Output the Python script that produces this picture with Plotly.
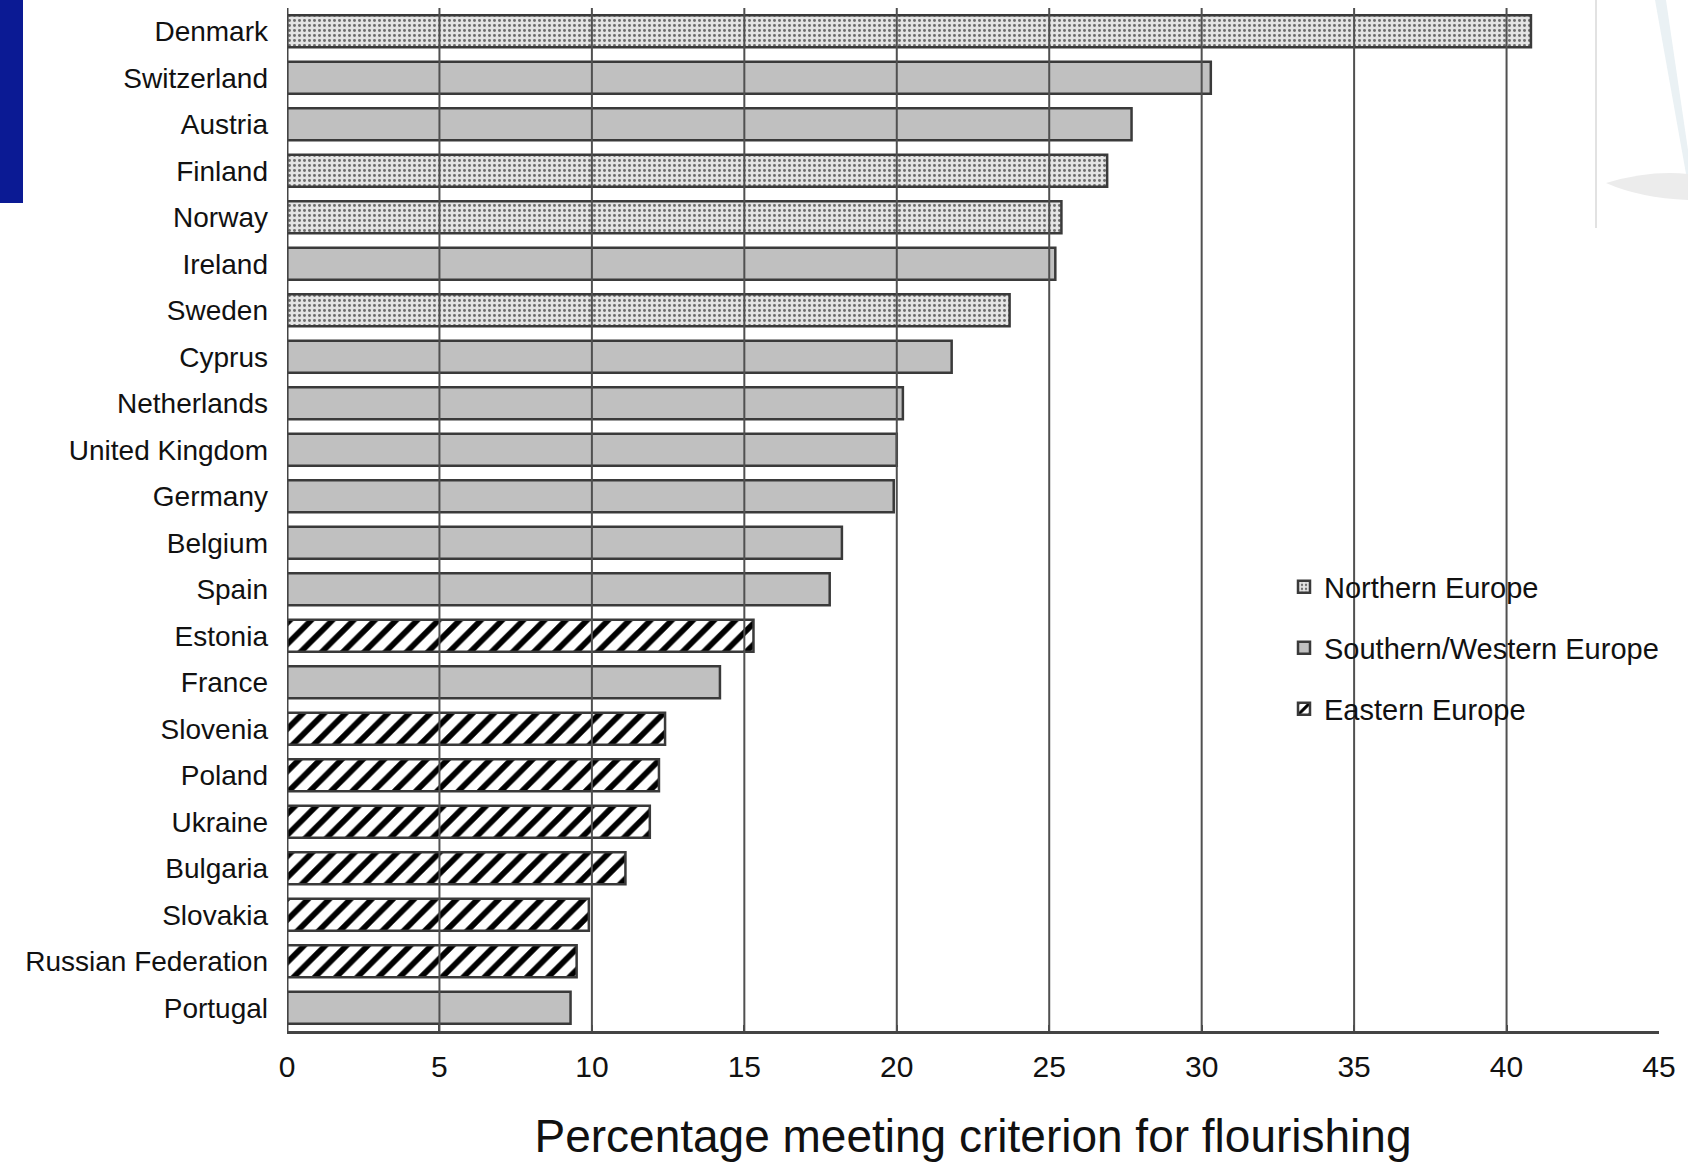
import plotly.graph_objects as go

# ---------------- data ----------------
countries = ["Denmark", "Switzerland", "Austria", "Finland", "Norway", "Ireland",
             "Sweden", "Cyprus", "Netherlands", "United Kingdom", "Germany",
             "Belgium", "Spain", "Estonia", "France", "Slovenia", "Poland",
             "Ukraine", "Bulgaria", "Slovakia", "Russian Federation", "Portugal"]
values = [40.8, 30.3, 27.7, 26.9, 25.4, 25.2, 23.7, 21.8, 20.2, 20.0, 19.9,
          18.2, 17.8, 15.3, 14.2, 12.4, 12.2, 11.9, 11.1, 9.9, 9.5, 9.3]
regions = ["N", "S", "S", "N", "N", "S", "N", "S", "S", "S", "S",
           "S", "S", "E", "S", "E", "E", "E", "E", "E", "E", "S"]
region_names = {"N": "Northern Europe", "S": "Southern/Western Europe", "E": "Eastern Europe"}
x_ticks = [0, 5, 10, 15, 20, 25, 30, 35, 40, 45]
x_title = "Percentage meeting criterion for flourishing"

# ---------------- figure ----------------
W, H = 1688, 1166
L, R, T, B = 287, 29, 8, 135
FONT = "Liberation Sans, Arial, sans-serif"
TXT = "#111111"
EDGE = "#3a3a3a"

styles = {
    "N": dict(color="#e4e4e4",
              pattern=dict(shape=".", fgcolor="#6e6e6e", bgcolor="#e4e4e4", size=5,
                           solidity=0.28, fgopacity=1)),
    "S": dict(color="#c0c0c0"),
    "E": dict(color="#ffffff",
              pattern=dict(shape="/", fgcolor="#000000", bgcolor="#ffffff", size=15,
                           solidity=0.38, fgopacity=1)),
}
legend_ids = {"N": "legend", "S": "legend2", "E": "legend3"}

fig = go.Figure()
for key in ["N", "S", "E"]:
    ys = [c for c, r in zip(countries, regions) if r == key]
    xs = [v for v, r in zip(values, regions) if r == key]
    fig.add_trace(go.Bar(
        y=ys, x=xs, orientation="h", name=region_names[key],
        marker=dict(**styles[key], line=dict(color=EDGE, width=2.5)),
        width=0.69, legend=legend_ids[key], hoverinfo="x+y",
    ))

pw = W - L - R
ph = H - T - B

def px_x(p):
    return (p - L) / pw

def px_y(p):
    return (H - B - p) / ph

shapes = []
# vertical gridlines drawn above bars
for t in x_ticks[1:-1]:
    shapes.append(dict(type="line", xref="x", yref="paper", x0=t, x1=t, y0=0, y1=1,
                       line=dict(color="#505050", width=2), layer="above"))
# left y axis line
shapes.append(dict(type="line", xref="x", yref="paper", x0=0, x1=0, y0=0, y1=1,
                   line=dict(color="#444444", width=3), layer="above"))
# decorative blue bar at top-left
shapes.append(dict(type="rect", xref="paper", yref="paper",
                   x0=px_x(0), x1=px_x(23), y0=px_y(203), y1=px_y(0),
                   fillcolor="#0b1a94", line=dict(width=0), layer="above"))
# decorative faint frame line and swoosh at top-right
shapes.append(dict(type="line", xref="paper", yref="paper",
                   x0=px_x(1596), x1=px_x(1596), y0=px_y(228), y1=px_y(0),
                   line=dict(color="#e2e2e2", width=2), layer="above"))
shapes.append(dict(type="path", xref="paper", yref="paper",
                   path=f"M {px_x(1655)},{px_y(0)} L {px_x(1666)},{px_y(0)} L {px_x(1688)},{px_y(150)} "
                        f"L {px_x(1688)},{px_y(185)} Z",
                   fillcolor="#eaf1f4", line=dict(width=0), layer="above"))
shapes.append(dict(type="path", xref="paper", yref="paper",
                   path=f"M {px_x(1606)},{px_y(183)} Q {px_x(1650)},{px_y(170)} {px_x(1688)},{px_y(174)} "
                        f"L {px_x(1688)},{px_y(200)} Q {px_x(1640)},{px_y(198)} {px_x(1606)},{px_y(183)} Z",
                   fillcolor="#ececec", line=dict(width=0), layer="above"))

legend_common = dict(bgcolor="rgba(0,0,0,0)", borderwidth=0, xanchor="left", yanchor="middle",
                     font=dict(family=FONT, size=29, color=TXT), itemwidth=30)
lx = px_x(1284)

fig.update_layout(
    width=W, height=H,
    margin=dict(l=L, r=R, t=T, b=B),
    paper_bgcolor="white", plot_bgcolor="white",
    barmode="overlay",
    showlegend=True,
    legend=dict(**legend_common, x=lx, y=px_y(587)),
    legend2=dict(**legend_common, x=lx, y=px_y(648)),
    legend3=dict(**legend_common, x=lx, y=px_y(709)),
    shapes=shapes,
    xaxis=dict(range=[0, 45], tickvals=x_ticks, ticktext=[str(t) for t in x_ticks],
               showgrid=False, zeroline=False,
               showline=True, linecolor="#444444", linewidth=3,
               ticks="inside", ticklen=6, tickwidth=2, tickcolor="#444444",
               ticklabelstandoff=7,
               tickfont=dict(family=FONT, size=30, color=TXT),
               title=dict(text=x_title, font=dict(family=FONT, size=46, color=TXT), standoff=38)),
    yaxis=dict(categoryorder="array", categoryarray=countries, autorange="reversed",
               range=[len(countries) - 0.5, -0.5],
               showgrid=False, zeroline=False, showline=False, ticks="",
               ticklabelstandoff=18,
               tickfont=dict(family=FONT, size=28, color=TXT)),
)

fig.write_html("out.html", config={"displayModeBar": False},
               post_script="document.body.style.margin='0';document.body.style.padding='0';")
